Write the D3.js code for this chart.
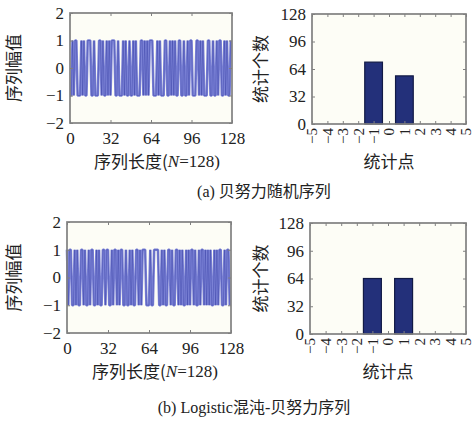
<!DOCTYPE html>
<html>
<head>
<meta charset="utf-8">
<script src="https://cdn.jsdelivr.net/npm/d3@7"></script>
<style>
  body { margin: 0; background: #fff; }
  svg text { font-family: "Liberation Serif", "Noto Sans CJK SC", serif; fill: #222; }
  .cjk { font-family: "Noto Sans CJK SC", "Liberation Serif", serif; }
</style>
</head>
<body>
<div id="chartDiv"></div>
<script>
// sequence (a): Bernoulli random, 72 x -1, 56 x +1
const seqA = [
  -1,-1,1,-1,1,1,-1,-1,-1,1,-1,1,-1,-1,1,1,
  1,-1,-1,1,-1,-1,-1,1,1,-1,1,-1,-1,1,-1,1,
  -1,1,1,1,-1,-1,1,-1,-1,-1,1,-1,1,-1,-1,1,
  -1,-1,1,-1,1,-1,-1,-1,1,1,-1,1,-1,1,-1,1,
  1,1,-1,-1,-1,1,-1,1,-1,-1,-1,1,1,-1,-1,1,
  -1,1,-1,1,-1,-1,1,1,-1,-1,1,-1,-1,1,-1,1,
  1,-1,-1,-1,1,1,-1,1,-1,1,-1,-1,-1,1,1,-1,
  -1,1,-1,-1,1,-1,1,1,-1,-1,1,-1,1,-1,-1,1
];
// sequence (b): Logistic chaos Bernoulli, 64 x -1, 64 x +1
const seqB = [
  1,-1,1,1,-1,-1,1,-1,1,-1,-1,1,1,-1,1,-1,
  -1,1,-1,1,1,-1,-1,1,-1,1,-1,-1,1,1,-1,1,
  1,-1,-1,1,-1,1,1,-1,1,-1,1,1,-1,-1,1,-1,
  -1,1,-1,1,-1,-1,1,1,-1,1,-1,1,1,1,-1,-1,
  -1,1,-1,-1,1,1,1,1,-1,-1,1,-1,1,-1,-1,1,
  1,-1,1,-1,-1,1,1,-1,1,-1,1,-1,-1,1,-1,1,
  -1,1,1,-1,1,-1,-1,1,-1,1,1,-1,1,-1,1,-1,
  1,-1,-1,1,-1,1,-1,1,1,-1,-1,1,-1,1,1,-1
];

// histogram counts
const histPoints = [-1, 1];
const histA = [72, 56];
const histB = [64, 64];

// tick labels
const seqXTicks = [0, 32, 64, 96, 128];
const seqYTicks = [-2, -1, 0, 1, 2];
const histXTicks = [-5, -4, -3, -2, -1, 0, 1, 2, 3, 4, 5];
const histYTicks = [0, 32, 64, 96, 128];

const seqXLabel = '序列长度(',
      seqXLabelN = 'N',
      seqXLabelTail = '=128)';
const seqYLabel = '序列幅值';
const histXLabel = '统计点';
const histYLabel = '统计个数';
const captionA = '(a) 贝努力随机序列';
const captionB = '(b) Logistic混沌-贝努力序列';

const W = 474, H = 423;
const svg = d3.select('#chartDiv').append('svg')
  .attr('width', W).attr('height', H);

const frameColor = '#808080';

function frame(g, x, y) {
  const [x0, x1] = x.range(), [y0, y1] = y.range();
  g.append('rect')
    .attr('x', x0).attr('y', y1)
    .attr('width', x1 - x0).attr('height', y0 - y1)
    .attr('fill', '#fdfdf6');
}

function box(g, x, y) {
  const [x0, x1] = x.range(), [y0, y1] = y.range();
  g.append('rect')
    .attr('x', x0).attr('y', y1)
    .attr('width', x1 - x0).attr('height', y0 - y1)
    .attr('fill', 'none').attr('stroke', frameColor).attr('stroke-width', 1.7);
}

function axes(g, x, y, xt, yt, rotX) {
  const [x0, x1] = x.range(), [y0, y1] = y.range();
  // inward ticks, all four sides
  const xb = g.append('g').attr('transform', `translate(0,${y0})`)
    .call(d3.axisBottom(x).tickValues(xt).tickSizeInner(-3).tickSizeOuter(0).tickPadding(9)
      .tickFormat(d => d < 0 ? '\u2212' + Math.abs(d) : d));
  const xtop = g.append('g').attr('transform', `translate(0,${y1})`)
    .call(d3.axisTop(x).tickValues(xt).tickSizeInner(-3).tickSizeOuter(0).tickFormat(''));
  const yl = g.append('g').attr('transform', `translate(${x0},0)`)
    .call(d3.axisLeft(y).tickValues(yt).tickSizeInner(-3).tickSizeOuter(0).tickPadding(6)
      .tickFormat(d => d < 0 ? '\u2212' + Math.abs(d) : d));
  const yr = g.append('g').attr('transform', `translate(${x1},0)`)
    .call(d3.axisRight(y).tickValues(yt).tickSizeInner(-3).tickSizeOuter(0).tickFormat(''));
  [xb, xtop, yl, yr].forEach(a => {
    a.select('.domain').remove();
    a.selectAll('.tick line').attr('stroke', frameColor);
  });
  xb.selectAll('.tick text').attr('font-size', 17).attr('fill', '#222');
  yl.selectAll('.tick text').attr('font-size', 17).attr('fill', '#222');
  if (rotX) {
    xb.selectAll('.tick text')
      .attr('font-size', 15)
      .attr('transform', 'rotate(-90)')
      .attr('text-anchor', 'end')
      .attr('dy', '0.33em')
      .attr('x', -4)
      .attr('y', 0);
  }
}

function seqPanel(data, px, py) {
  const g = svg.append('g');
  const x = d3.scaleLinear().domain([0, 128]).range(px);
  const y = d3.scaleLinear().domain([-2, 2]).range(py);
  frame(g, x, y);
  const line = d3.line().x((d, i) => x(i)).y(d => y(d));
  // wide light stroke gives the dense blue look, thin dark one the streaks
  g.append('path')
    .datum(data)
    .attr('d', line)
    .attr('fill', 'none')
    .attr('stroke', '#6d74d3')
    .attr('stroke-opacity', 0.9)
    .attr('stroke-linejoin', 'bevel')
    .attr('stroke-width', 2.6);
  g.append('path')
    .datum(data)
    .attr('d', line)
    .attr('fill', 'none')
    .attr('stroke', '#2f389e')
    .attr('stroke-opacity', 0.55)
    .attr('stroke-linejoin', 'bevel')
    .attr('stroke-width', 0.7);
  box(g, x, y);
  axes(g, x, y, seqXTicks, seqYTicks, false);
  return { g, x, y };
}

function histPanel(counts, px, py) {
  const g = svg.append('g');
  const x = d3.scaleLinear().domain([-5, 5]).range(px);
  const y = d3.scaleLinear().domain([0, 128]).range(py);
  frame(g, x, y);
  const bw = (x(1) - x(0)) * 1.15;
  g.selectAll('rect.bar')
    .data(histPoints)
    .enter().append('rect')
    .attr('class', 'bar')
    .attr('x', d => x(d) - bw / 2)
    .attr('y', (d, i) => y(counts[i]))
    .attr('width', bw)
    .attr('height', (d, i) => y(0) - y(counts[i]))
    .attr('fill', '#23307a')
    .attr('stroke', '#121a45')
    .attr('stroke-width', 1.2);
  box(g, x, y);
  axes(g, x, y, histXTicks, histYTicks, true);
  return { g, x, y };
}

function seqLabels(p, xlY, ylX) {
  const [x0, x1] = p.x.range(), [y0, y1] = p.y.range();
  const t = svg.append('text')
    .attr('x', (x0 + x1) / 2 + 6).attr('y', xlY)
    .attr('text-anchor', 'middle').attr('dominant-baseline', 'middle')
    .attr('font-size', 17);
  t.append('tspan').attr('class', 'cjk').text(seqXLabel);
  t.append('tspan').attr('font-style', 'italic').text(seqXLabelN);
  t.append('tspan').text(seqXLabelTail);
  svg.append('text')
    .attr('class', 'cjk')
    .attr('transform', `translate(${ylX},${(y0 + y1) / 2}) rotate(-90)`)
    .attr('text-anchor', 'middle').attr('dominant-baseline', 'middle')
    .attr('font-size', 17)
    .text(seqYLabel);
}

function histLabels(p, xlY, ylX) {
  const [x0, x1] = p.x.range(), [y0, y1] = p.y.range();
  svg.append('text')
    .attr('class', 'cjk')
    .attr('x', (x0 + x1) / 2).attr('y', xlY)
    .attr('text-anchor', 'middle').attr('dominant-baseline', 'middle')
    .attr('font-size', 17)
    .text(histXLabel);
  svg.append('text')
    .attr('class', 'cjk')
    .attr('transform', `translate(${ylX},${(y0 + y1) / 2}) rotate(-90)`)
    .attr('text-anchor', 'middle').attr('dominant-baseline', 'middle')
    .attr('font-size', 17)
    .text(histYLabel);
}

// panel (a)
const pa1 = seqPanel(seqA, [70, 232], [123, 13]);
const pa2 = histPanel(histA, [312, 466], [124, 14]);
seqLabels(pa1, 163, 15);
histLabels(pa2, 163, 262);

// panel (b)
const pb1 = seqPanel(seqB, [67, 231], [333, 222]);
const pb2 = histPanel(histB, [310, 466], [334, 223]);
seqLabels(pb1, 373, 15);
histLabels(pb2, 373, 262);

// captions
svg.append('text')
  .attr('x', 264).attr('y', 193)
  .attr('text-anchor', 'middle').attr('dominant-baseline', 'middle')
  .attr('font-size', 16)
  .text(captionA);
svg.append('text')
  .attr('x', 254).attr('y', 409)
  .attr('text-anchor', 'middle').attr('dominant-baseline', 'middle')
  .attr('font-size', 16)
  .text(captionB);
</script>
</body>
</html>
